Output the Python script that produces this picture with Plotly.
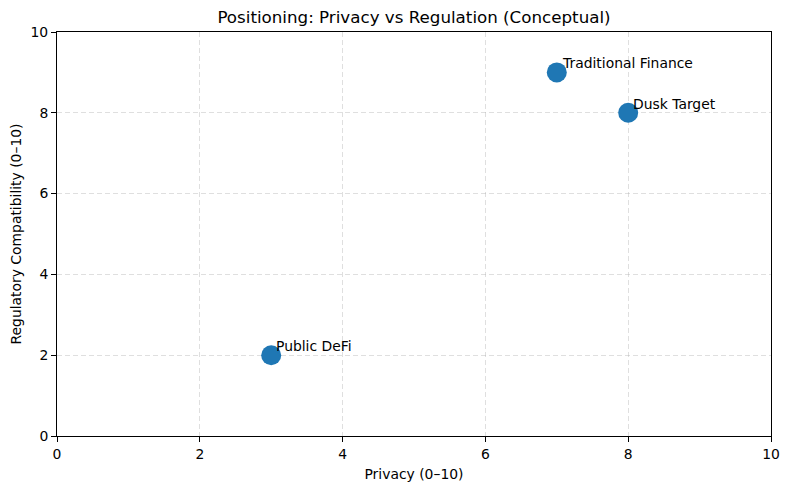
import plotly.graph_objects as go

labels = ["Public DeFi", "Traditional Finance", "Dusk Target"]
privacy = [3, 7, 8]
regulation = [2, 9, 8]
x_ticks = [0, 2, 4, 6, 8, 10]
y_ticks = [0, 2, 4, 6, 8, 10]

FS = 13.9
fig = go.Figure()
fig.add_trace(go.Scatter(
    x=privacy, y=regulation, mode="markers",
    marker=dict(size=20, color="#1f77b4", line=dict(width=0)),
    showlegend=False, cliponaxis=False,
))
for lab, px, py in zip(labels, privacy, regulation):
    fig.add_annotation(x=px, y=py, text=lab, showarrow=False,
                       xanchor="left", yanchor="bottom", xshift=3, yshift=-1,
                       font=dict(family="DejaVu Sans", size=FS, color="black"))

axis_common = dict(
    range=[0, 10], showgrid=True, gridcolor="rgba(176,176,176,0.4)",
    griddash="5px,3px", gridwidth=1, zeroline=False,
    showline=True, linecolor="black", linewidth=1, mirror=True,
    ticks="outside", ticklen=5, tickcolor="black", tickwidth=1,
    tickfont=dict(family="DejaVu Sans", size=FS, color="black"),
    automargin=False,
)
fig.update_xaxes(**axis_common, tickvals=x_ticks,
                 title=dict(text="Privacy (0–10)", font=dict(family="DejaVu Sans", size=FS, color="black"), standoff=8))
fig.update_yaxes(**axis_common, tickvals=y_ticks,
                 title=dict(text="Regulatory Compatibility (0–10)", font=dict(family="DejaVu Sans", size=FS, color="black"), standoff=8))

W, H = 774, 474
L, R, T, B = 49, 11, 24, 46
fig.update_layout(
    width=W, height=H,
    margin=dict(l=L, r=R, t=T, b=B, autoexpand=False),
    paper_bgcolor="white", plot_bgcolor="white",
    title=dict(text="Positioning: Privacy vs Regulation (Conceptual)",
               font=dict(family="DejaVu Sans", size=16.7, color="black"),
               x=(L + W - R) / 2 / W, xanchor="center", y=1 - 9 / H, yanchor="middle"),
)
fig.write_html("out.html")
